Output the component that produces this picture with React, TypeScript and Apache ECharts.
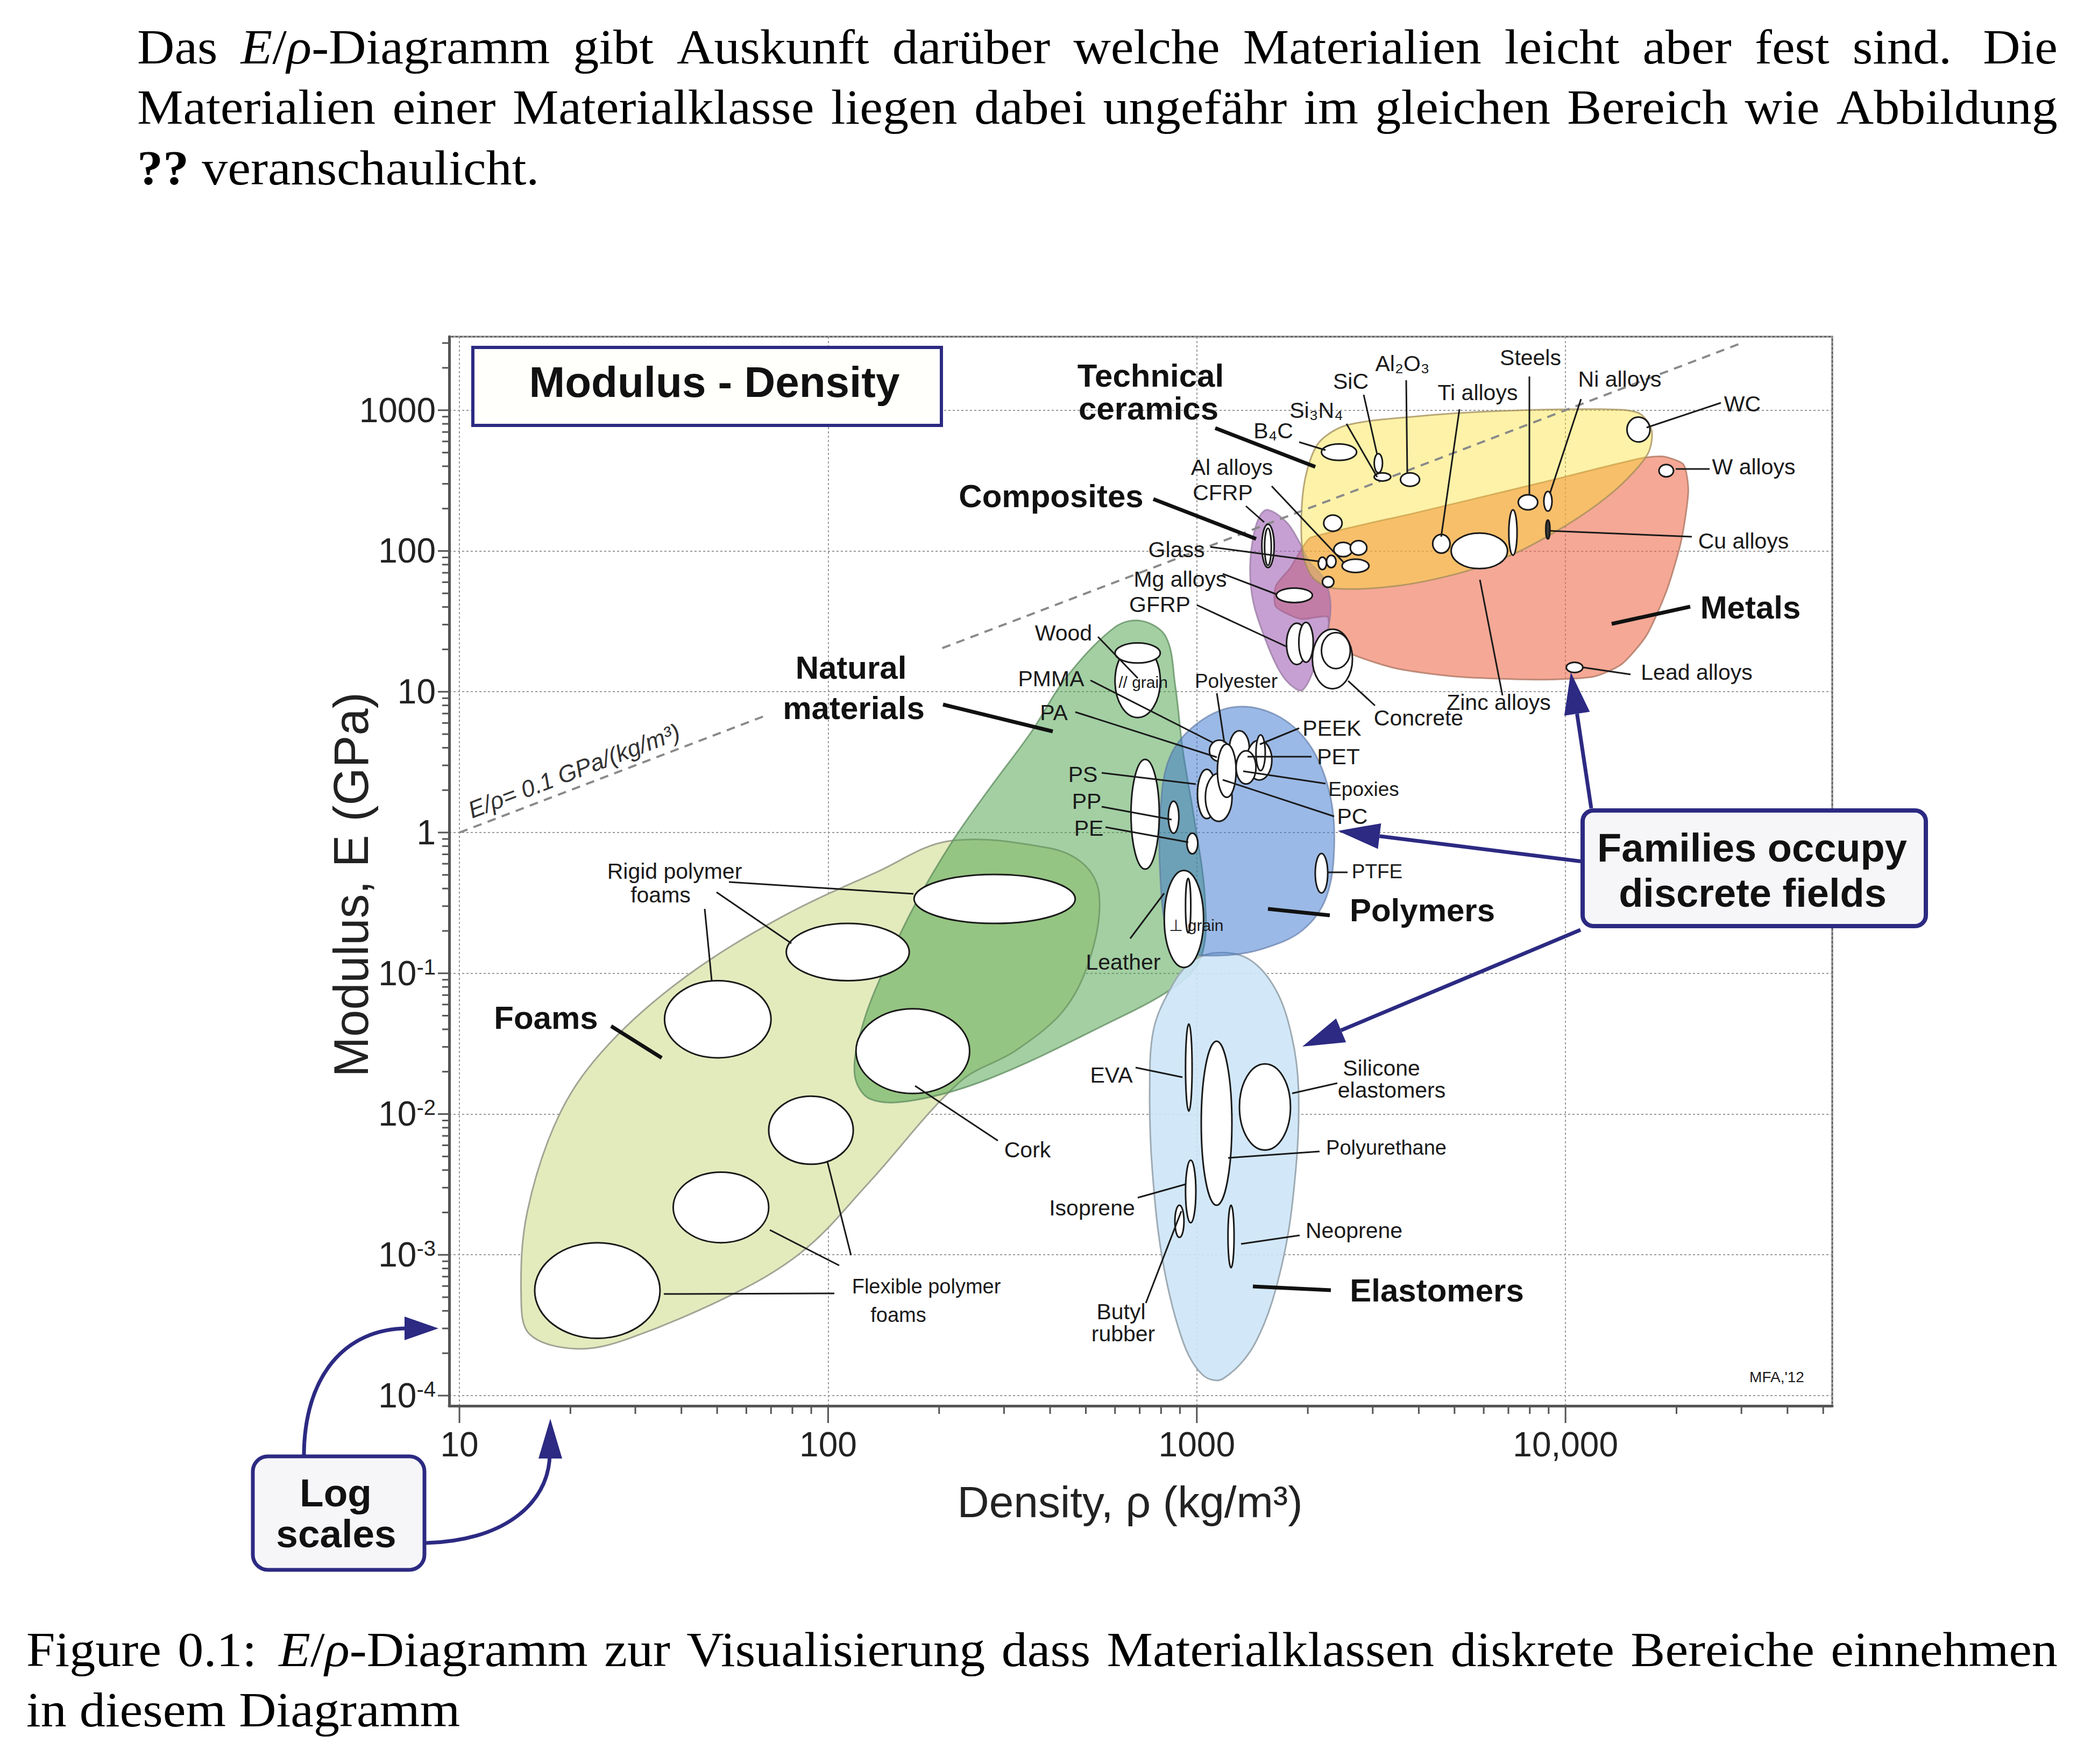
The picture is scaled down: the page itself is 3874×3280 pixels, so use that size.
import React, { useEffect, useRef } from "react";
import * as echarts from "echarts";

const SANS = "'Liberation Sans', Arial, Helvetica, sans-serif";
const SERIF = "'Liberation Serif', 'Times New Roman', serif";
const NAVY = "#2c2a82";

// ---------- axes ----------
const xExtent = [9.38, 52900];
const yExtent = [8.46e-5, 3330];
const xMajorTicks = [10, 100, 1000, 10000];
const yMajorTicks = [0.0001, 0.001, 0.01, 0.1, 1, 10, 100, 1000];
const minorMultipliers = [2, 3, 4, 5, 6, 7, 8, 9];
const xTickLabels: Record<string, string> = { "10": "10", "100": "100", "1000": "1000", "10000": "10,000" };

// ---------- guide line E/rho = 0.1 GPa/(kg/m3) ----------
const guideSegmentLow = [[10, 1], [67, 6.7]];
const guideSegmentHigh = [[204, 20.4], [30000, 3000]];

// ---------- family envelopes [density, modulus] ----------
const foamsOutline = [[213, 0.87], [393, 0.78], [492, 0.6], [543, 0.37], [521, 0.146], [442, 0.0574], [325, 0.0286], [228, 0.017], [129, 0.00326], [87.5, 0.00112], [58.7, 5.7e-4], [29, 2.56e-4], [20.8, 2.15e-4], [15.5, 2.73e-4], [14.7, 5.1e-4], [15.3, 2.06e-3], [18.8, 0.0103], [25.4, 0.0313], [41.1, 0.0946], [74.8, 0.251], [136, 0.526]];
const naturalOutline = [[707, 31.9], [599, 28.7], [441, 12.5], [357, 5.25], [275, 2.08], [218, 0.877], [172, 0.307], [142, 0.1076], [124, 0.0426], [118, 0.0191], [130, 0.0128], [172, 0.01256], [275, 0.01795], [558, 0.0426], [894, 0.084], [1035, 0.138], [1050, 0.37], [983, 1.27], [916, 3.86], [874, 11.0], [824, 24.6]];
const elastomersOutline = [[1128, 0.1398], [1388, 0.1254], [1639, 0.076], [1810, 0.0355], [1887, 0.0149], [1856, 0.00407], [1708, 8.9e-4], [1447, 2.42e-4], [1176, 1.315e-4], [1038, 1.4e-4], [917, 2.42e-4], [809, 8.9e-4], [757, 0.00407], [745, 0.0149], [763, 0.0396], [844, 0.076], [955, 0.1175]];
const polymersOutline = [[1267, 7.8], [1638, 6.85], [2016, 4.25], [2284, 1.98], [2360, 0.83], [2246, 0.348], [1934, 0.202], [1508, 0.149], [1176, 0.134], [917, 0.143], [830, 0.202], [796, 0.483], [796, 1.43], [844, 3.41], [996, 5.87]];
const compositesOutline = [[1558, 196], [1752, 160], [1890, 118], [2018, 84.4], [2205, 64.5], [2304, 43.2], [2262, 26.9], [2123, 16.8], [1938, 10.3], [1794, 11.2], [1660, 14.7], [1520, 25.1], [1423, 43.2], [1394, 74], [1423, 126.5], [1482, 177]];
const metalsOutline = [[1638, 40.3], [1638, 56.3], [1795, 76.3], [1940, 107], [2042, 125], [3933, 187], [8504, 303.5], [15960, 455], [18400, 469], [20900, 411], [21530, 265], [20600, 118], [18840, 53], [16580, 25.1], [14200, 15.7], [11900, 12.8], [8500, 12.2], [5080, 12.8], [3450, 14.7], [2545, 19.2], [2290, 25.1], [2262, 34.1], [1912, 32.9]];
const ceramicsOutline = [[1940, 96], [1925, 203], [1990, 372], [2150, 595], [2545, 782], [3935, 904], [6580, 987], [12500, 1017], [15770, 957], [17100, 728], [16900, 521], [15770, 397], [13520, 265], [11000, 177], [8500, 118], [6920, 90.6], [5080, 68.9], [3450, 56.3], [2355, 54.3], [2065, 64.5]];

// ---------- material bubbles: [name, rhoMin, rhoMax, Emin, Emax, dark] ----------
const foamBubbles = [
  ["Rigid polymer foam", 171, 468, 0.226, 0.504, 0], ["Rigid polymer foam", 77, 166, 0.0886, 0.226, 0], ["Rigid polymer foam", 36, 70, 0.0251, 0.0886, 0],
  ["Cork", 119, 242, 0.014, 0.056, 0],
  ["Flexible polymer foam", 69, 117, 0.0044, 0.0134, 0], ["Flexible polymer foam", 38, 69, 0.00122, 0.00387, 0], ["Flexible polymer foam", 16, 35, 2.55e-4, 1.22e-3, 0],
];
const naturalBubbles = [
  ["Wood", 600, 796, 6.56, 21.7, 0], ["Wood", 600, 796, 16, 22.2, 0],
  ["Wood perp grain", 816, 1043, 0.11, 0.538, 0], ["Leather", 932, 963, 0.194, 0.472, 0],
];
const polymerBubbles = [
  ["PS", 663, 791, 0.55, 3.31, 0], ["PP", 837, 894, 0.99, 1.67, 0], ["PE", 940, 1006, 0.706, 0.99, 0],
  ["PMMA", 1082, 1226, 3.2, 4.53, 0], ["PA", 1226, 1388, 3.0, 5.28, 0], ["PET", 1365, 1598, 2.36, 4.53, 0],
  ["PC", 1004, 1128, 1.256, 2.81, 0], ["PC", 1055, 1246, 1.2, 2.63, 0], ["Epoxies", 1137, 1278, 1.78, 4.25, 0],
  ["Polyester", 1278, 1447, 2.21, 3.81, 0], ["PEEK", 1447, 1533, 2.75, 4.94, 0], ["PTFE", 2095, 2265, 0.372, 0.709, 0],
];
const elastomerBubbles = [
  ["EVA", 932, 971, 0.0105, 0.0436, 0], ["Polyurethane", 1028, 1245, 0.00225, 0.0329, 0], ["Silicone elastomers", 1305, 1795, 0.00555, 0.0227, 0],
  ["Isoprene", 932, 994, 0.00169, 0.0047, 0], ["Butyl rubber", 872, 923, 0.00133, 0.00225, 0], ["Neoprene", 1215, 1262, 8.1e-4, 2.25e-3, 0],
];
const ceramicBubbles = [
  ["B4C", 2178, 2713, 440, 576, 0], ["SiC", 3028, 3189, 359, 492, 0], ["Si3N4", 3028, 3357, 314, 359, 0],
  ["Al2O3", 3568, 4019, 288, 359, 0], ["WC", 14680, 16950, 595, 893, 0], ["Glass ceramic", 2209, 2477, 138, 180, 0],
];
const metalBubbles = [
  ["W alloys", 17930, 19630, 336, 411, 0], ["Steels", 7445, 8405, 196, 251, 0], ["Ni alloys", 8733, 9193, 192, 265, 0],
  ["Cu alloys", 8842, 9073, 122, 166, 1], ["Ti alloys", 4363, 4861, 96.6, 131, 0], ["Zinc alloys", 4896, 6961, 74.9, 134, 0],
  ["Steels", 7019, 7389, 93.3, 196, 0], ["Al alloys", 2248, 2385, 76.2, 93.3, 0], ["Al alloys", 2353, 2643, 91.1, 115, 0],
  ["Al alloys", 2608, 2891, 93.5, 118.5, 0], ["Al alloys", 2477, 2930, 70.3, 87.4, 0], ["Glass", 2135, 2248, 73.8, 90.3, 0],
  ["Al alloys", 2191, 2353, 55.2, 65.9, 0], ["Mg alloys", 1643, 2058, 43, 54.5, 0], ["Lead alloys", 10050, 11140, 13.7, 16.2, 0],
];
const compositeBubbles = [
  ["CFRP", 1501, 1621, 76.2, 155, 0], ["CFRP", 1527, 1592, 79, 145, 0],
  ["GFRP", 1751, 1991, 15.6, 30.7, 0], ["GFRP", 1891, 2069, 16.2, 31.1, 0],
  ["Concrete", 2058, 2643, 10.5, 27.8, 0], ["Concrete", 2178, 2608, 14.6, 26.3, 0],
];

const envelopes = [
  { pts: foamsOutline, fill: "#e3ebbd", stroke: "#a3a394", smooth: 0.35 },
  { pts: naturalOutline, fill: "rgba(72,160,72,0.5)", stroke: "rgba(95,140,95,0.75)", smooth: 0.35 },
  { pts: elastomersOutline, fill: "rgba(205,230,248,0.9)", stroke: "#9eabb3", smooth: 0.35 },
  { pts: polymersOutline, fill: "rgba(55,115,205,0.5)", stroke: "rgba(90,115,160,0.6)", smooth: 0.35 },
  { pts: metalsOutline, fill: "rgba(238,105,72,0.58)", stroke: "rgba(170,115,95,0.75)", smooth: 0.22 },
  { pts: compositesOutline, fill: "rgba(160,96,180,0.6)", stroke: "rgba(150,120,160,0.7)", smooth: 0.35 },
  { pts: ceramicsOutline, fill: "rgba(250,224,47,0.42)", stroke: "rgba(160,140,90,0.75)", smooth: 0.3 },
];

const allBubbles = [...foamBubbles, ...naturalBubbles, ...polymerBubbles, ...elastomerBubbles, ...compositeBubbles, ...metalBubbles, ...ceramicBubbles];

// ---------- annotation texts (page pixels) ----------
const smallLabels: [string, number, number, number?][] = [
  ["Steels", 2845, 665], ["Al₂O₃", 2607, 676], ["SiC", 2511, 709], ["Ti alloys", 2747, 730], ["Ni alloys", 3011, 705],
  ["Si₃N₄", 2447, 763], ["B₄C", 2367, 801], ["WC", 3239, 751], ["W alloys", 3260, 868], ["Cu alloys", 3241, 1006],
  ["Lead alloys", 3154, 1250], ["Zinc alloys", 2786, 1306], ["Concrete", 2637, 1335], ["Al alloys", 2290, 869],
  ["CFRP", 2273, 916], ["Glass", 2187, 1022], ["Mg alloys", 2194, 1077], ["GFRP", 2156, 1124], ["Wood", 1977, 1177],
  ["PMMA", 1954, 1262], ["PA", 1959, 1325], ["Polyester", 2298, 1266, 37], ["PEEK", 2476, 1354], ["PET", 2488, 1407],
  ["Epoxies", 2535, 1467, 37], ["PC", 2514, 1518], ["PS", 2013, 1440], ["PP", 2020, 1490], ["PE", 2024, 1540],
  ["PTFE", 2560, 1620, 37], ["Leather", 2088, 1789], ["⊥ grain", 2224, 1720, 30], ["// grain", 2125, 1268, 30],
  ["Rigid polymer", 1254, 1620], ["foams", 1228, 1664], ["Cork", 1910, 2138], ["Flexible polymer", 1722, 2392, 38],
  ["foams", 1670, 2445, 38], ["EVA", 2066, 1999], ["Silicone", 2568, 1986], ["elastomers", 2587, 2027],
  ["Polyurethane", 2577, 2134, 38], ["Isoprene", 2030, 2246], ["Neoprene", 2517, 2288], ["Butyl", 2084, 2439],
  ["rubber", 2088, 2480], ["MFA,'12", 3303, 2560, 28],
];
const familyLabels: [string, number, number][] = [
  ["Technical", 2139, 698], ["ceramics", 2135, 759], ["Composites", 1954, 922], ["Natural", 1582, 1241],
  ["materials", 1587, 1316], ["Foams", 1015, 1892], ["Metals", 3254, 1129], ["Polymers", 2644, 1692], ["Elastomers", 2671, 2399],
];
const thickLeaders = [
  [2259, 796, 2445, 868], [2144, 928, 2335, 1002], [1753, 1310, 1957, 1360], [1136, 1908, 1230, 1967],
  [3142, 1128, 2996, 1160], [2357, 1690, 2472, 1702], [2329, 2392, 2474, 2399],
];
const thinLeaders = [
  [2843, 700, 2843, 921], [2614, 707, 2616, 879], [2535, 734, 2560, 845], [2713, 761, 2679, 998], [2939, 742, 2881, 918],
  [2503, 788, 2560, 887], [2415, 822, 2464, 837], [3199, 749, 3061, 795], [3115, 872, 3178, 872], [3145, 998, 2881, 987],
  [3031, 1254, 2943, 1241], [2793, 1293, 2751, 1078], [2556, 1312, 2506, 1266], [2364, 904, 2498, 1046], [2316, 941, 2350, 971],
  [2250, 1017, 2453, 1044], [2273, 1067, 2373, 1105], [2225, 1125, 2393, 1203], [2041, 1184, 2115, 1261], [2027, 1265, 2255, 1381],
  [1999, 1324, 2262, 1408], [2262, 1289, 2276, 1381], [2415, 1354, 2342, 1384], [2438, 1407, 2319, 1407], [2464, 1457, 2311, 1434],
  [2480, 1518, 2273, 1450], [2048, 1437, 2223, 1458], [2048, 1500, 2178, 1524], [2055, 1538, 2209, 1566], [2468, 1622, 2505, 1622],
  [2101, 1745, 2164, 1661], [1355, 1640, 1698, 1662], [1332, 1659, 1471, 1754], [1310, 1690, 1323, 1823], [1855, 2121, 1701, 2019],
  [1551, 2405, 1234, 2406], [1560, 2353, 1431, 2287], [1582, 2334, 1538, 2160], [2111, 1985, 2198, 2003], [2486, 2014, 2402, 2033],
  [2453, 2141, 2283, 2153], [2115, 2227, 2204, 2202], [2416, 2297, 2307, 2313], [2130, 2423, 2196, 2252],
];

// ---------- document text ----------
const paragraphLines = [
  { text: "Das *E*/*ρ*-Diagramm gibt Auskunft darüber welche Materialien leicht aber fest sind. Die", x0: 255, x1: 3825, y: 87, justify: true },
  { text: "Materialien einer Materialklasse liegen dabei ungefähr im gleichen Bereich wie Abbildung", x0: 255, x1: 3825, y: 199, justify: true },
  { text: "#??# veranschaulicht.", x0: 255, x1: 3825, y: 312, justify: false },
  { text: "Figure 0.1: *E*/*ρ*-Diagramm zur Visualisierung dass Materialklassen diskrete Bereiche einnehmen", x0: 49, x1: 3825, y: 3067, justify: true },
  { text: "in diesem Diagramm", x0: 49, x1: 3825, y: 3179, justify: false },
];
const DOC_SIZE = 92;
const DOC_STRETCH = 1.045;

function serifFont(i: boolean, b: boolean) {
  return `${i ? "italic " : ""}${b ? "bold " : ""}${DOC_SIZE}px ${SERIF}`;
}

function layoutDocText() {
  const ctx = document.createElement("canvas").getContext("2d") as CanvasRenderingContext2D;
  const out: any[] = [];
  paragraphLines.forEach((line) => {
    const words = line.text.split(" ").map((w) => {
      const segs: { t: string; i: boolean; b: boolean }[] = [];
      let i = false, b = false, cur = "";
      for (const ch of w) {
        if (ch === "*" || ch === "#") {
          if (cur) segs.push({ t: cur, i, b });
          cur = "";
          if (ch === "*") i = !i; else b = !b;
        } else cur += ch;
      }
      if (cur) segs.push({ t: cur, i, b });
      return segs.map((s) => {
        ctx.font = serifFont(s.i, s.b);
        return { ...s, w: ctx.measureText(s.t).width * DOC_STRETCH };
      });
    });
    const widths = words.map((w) => w.reduce((a, s) => a + s.w, 0));
    const weights = words.slice(0, -1).map((w) => (/[.:]$/.test(w[w.length - 1].t) ? 1.35 : 1));
    ctx.font = serifFont(false, false);
    let unit = ctx.measureText(" ").width * DOC_STRETCH;
    if (line.justify) {
      const total = widths.reduce((a, b) => a + b, 0);
      unit = (line.x1 - line.x0 - total) / weights.reduce((a, b) => a + b, 0);
    }
    let x = line.x0;
    words.forEach((w, wi) => {
      w.forEach((s) => {
        out.push({ type: "text", x, y: line.y, scaleX: DOC_STRETCH, z: 200, style: { text: s.t, font: serifFont(s.i, s.b), fill: "#000", align: "left", verticalAlign: "middle" } });
        x += s.w;
      });
      if (wi < weights.length) x += unit * weights[wi];
    });
  });
  return out;
}

function arrowHead(fx: number, fy: number, tx: number, ty: number, len: number, half: number) {
  const dx = tx - fx, dy = ty - fy, L = Math.hypot(dx, dy);
  const ux = dx / L, uy = dy / L;
  const bx = tx - ux * len, by = ty - uy * len;
  return { base: [bx, by], pts: [[tx, ty], [bx - uy * half, by + ux * half], [bx + uy * half, by - ux * half]] };
}

function buildGraphics() {
  const g: any[] = [];
  // boxes
  g.push({ type: "rect", z: 150, shape: { x: 879, y: 646, width: 871, height: 145 }, style: { fill: "#fffffc", stroke: NAVY, lineWidth: 6 } });
  g.push({ type: "text", z: 151, x: 1328, y: 710, style: { text: "Modulus - Density", font: `bold 80px ${SANS}`, fill: "#111", align: "center", verticalAlign: "middle" } });
  g.push({ type: "rect", z: 150, shape: { x: 2942, y: 1507, width: 638, height: 215, r: 20 }, style: { fill: "#f6f6f8", stroke: NAVY, lineWidth: 8 } });
  g.push({ type: "text", z: 151, x: 3257, y: 1576, style: { text: "Families occupy", font: `bold 74px ${SANS}`, fill: "#111", align: "center", verticalAlign: "middle" } });
  g.push({ type: "text", z: 151, x: 3258, y: 1660, style: { text: "discrete fields", font: `bold 74px ${SANS}`, fill: "#111", align: "center", verticalAlign: "middle" } });
  g.push({ type: "rect", z: 150, shape: { x: 470, y: 2708, width: 319, height: 211, r: 28 }, style: { fill: "#f6f6f8", stroke: NAVY, lineWidth: 7 } });
  g.push({ type: "text", z: 151, x: 624, y: 2775, style: { text: "Log", font: `bold 73px ${SANS}`, fill: "#111", align: "center", verticalAlign: "middle" } });
  g.push({ type: "text", z: 151, x: 625, y: 2851, style: { text: "scales", font: `bold 73px ${SANS}`, fill: "#111", align: "center", verticalAlign: "middle" } });

  // navy arrows from the callout box
  const straight = [[2942, 1602, 2487, 1545], [2958, 1503, 2920, 1250], [2938, 1729, 2421, 1946]];
  straight.forEach(([fx, fy, tx, ty]) => {
    const h = arrowHead(fx, fy, tx, ty, 78, 24);
    g.push({ type: "line", z: 140, shape: { x1: fx, y1: fy, x2: h.base[0], y2: h.base[1] }, style: { stroke: NAVY, lineWidth: 7 } });
    g.push({ type: "polygon", z: 141, shape: { points: h.pts }, style: { fill: NAVY } });
  });
  // curved log-scale arrows
  g.push({ type: "bezierCurve", z: 140, shape: { x1: 565, y1: 2708, cpx1: 565, cpy1: 2560, cpx2: 640, cpy2: 2470, x2: 758, y2: 2470 }, style: { stroke: NAVY, lineWidth: 7, fill: "none" } });
  g.push({ type: "polygon", z: 141, shape: { points: [[815, 2470], [752, 2448], [752, 2492]] }, style: { fill: NAVY } });
  g.push({ type: "bezierCurve", z: 140, shape: { x1: 792, y1: 2869, cpx1: 930, cpy1: 2866, cpx2: 1020, cpy2: 2800, x2: 1022, y2: 2705 }, style: { stroke: NAVY, lineWidth: 7, fill: "none" } });
  g.push({ type: "polygon", z: 141, shape: { points: [[1023, 2638], [1001, 2712], [1045, 2712]] }, style: { fill: NAVY } });

  // leaders
  thickLeaders.forEach(([x1, y1, x2, y2]) => g.push({ type: "line", z: 120, shape: { x1, y1, x2, y2 }, style: { stroke: "#111", lineWidth: 7 } }));
  thinLeaders.forEach(([x1, y1, x2, y2]) => g.push({ type: "line", z: 120, shape: { x1, y1, x2, y2 }, style: { stroke: "#1a1a1a", lineWidth: 3 } }));

  // labels
  smallLabels.forEach(([t, x, y, s]) => g.push({ type: "text", z: 130, x, y, style: { text: t, font: `${s || 41}px ${SANS}`, fill: "#1a1a1a", align: "center", verticalAlign: "middle" } }));
  familyLabels.forEach(([t, x, y]) => g.push({ type: "text", z: 130, x, y, style: { text: t, font: `bold 60px ${SANS}`, fill: "#111", align: "center", verticalAlign: "middle" } }));

  // guide-line label
  g.push({ type: "text", z: 130, x: 1067, y: 1433, rotation: 0.365, style: { text: "E/ρ= 0.1 GPa/(kg/m³)", font: `italic 44px ${SANS}`, fill: "#333", align: "center", verticalAlign: "middle" } });

  return g.concat(layoutDocText());
}

function buildOption() {
  const xMinor = xMajorTicks.flatMap((d) => minorMultipliers.map((m) => m * d)).filter((v) => v < xExtent[1]);
  const yMinor = yMajorTicks.flatMap((d) => minorMultipliers.map((m) => m * d)).filter((v) => v < yExtent[1]);
  const tickData: number[][] = [
    ...xMajorTicks.map((v) => [v, yExtent[0], 0]),
    ...xMinor.map((v) => [v, yExtent[0], 1]),
    ...yMajorTicks.map((v) => [xExtent[0], v, 2]),
    ...yMinor.map((v) => [xExtent[0], v, 3]),
  ];
  const isPow10 = (v: number) => Math.abs(Math.log10(v) - Math.round(Math.log10(v))) < 1e-6;

  return {
    animation: false,
    backgroundColor: "#ffffff",
    grid: { left: 835, top: 626, width: 2571, height: 1988, show: true, borderColor: "#555", borderWidth: 3, backgroundColor: "transparent" },
    xAxis: {
      type: "log", logBase: 10, min: xExtent[0], max: xExtent[1],
      name: "Density, ρ (kg/m³)", nameLocation: "middle", nameGap: 137, nameMoveOverlap: false,
      nameTextStyle: { fontFamily: SANS, fontSize: 82, color: "#222", padding: [0, 40, 0, 0] },
      axisLine: { show: true, onZero: false, lineStyle: { color: "#555", width: 5 } },
      axisTick: { show: false },
      axisLabel: {
        margin: 40, fontFamily: SANS, fontSize: 64, color: "#222", showMinLabel: false, showMaxLabel: false,
        formatter: (v: number) => (isPow10(v) ? xTickLabels[String(Math.round(v))] || "" : ""),
      },
      splitLine: { show: true, lineStyle: { color: "#9a9a9a", width: 2, type: [4, 4] } },
    },
    yAxis: {
      type: "log", logBase: 10, min: yExtent[0], max: yExtent[1],
      name: "Modulus, E (GPa)", nameLocation: "middle", nameGap: 137, nameMoveOverlap: false,
      nameTextStyle: { fontFamily: SANS, fontSize: 90, color: "#222", padding: [0, 50, 0, 0] },
      axisLine: { show: true, onZero: false, lineStyle: { color: "#555", width: 5 } },
      axisTick: { show: false },
      axisLabel: {
        margin: 25, fontFamily: SANS, fontSize: 64, color: "#222", showMinLabel: false, showMaxLabel: false,
        formatter: (v: number) => {
          if (!isPow10(v)) return "";
          const n = Math.round(Math.log10(v));
          return n >= 0 ? String(Math.round(v)) : `10{sup|-${-n}}`;
        },
        rich: { sup: { fontSize: 40, fontFamily: SANS, color: "#222", verticalAlign: "top", padding: [0, 0, 22, 0] } },
      },
      splitLine: { show: true, lineStyle: { color: "#9a9a9a", width: 2, type: [4, 4] } },
    },
    graphic: buildGraphics(),
    series: [
      {
        type: "custom", name: "families", z: 1, silent: true,
        dimensions: ["x", "y", "idx"], encode: { x: 0, y: 1 },
        data: envelopes.map((e, i) => [e.pts[0][0], e.pts[0][1], i]),
        renderItem: (params: any, api: any) => {
          const env = envelopes[api.value(2)];
          return { type: "polygon", shape: { points: env.pts.map((p) => api.coord(p)), smooth: env.smooth }, style: { fill: env.fill, stroke: env.stroke, lineWidth: 3 } };
        },
      },
      { type: "line", name: "E/rho low", z: 2, silent: true, symbol: "none", data: guideSegmentLow, lineStyle: { color: "#8a8a8a", width: 4, type: [16, 12] } },
      { type: "line", name: "E/rho high", z: 2, silent: true, symbol: "none", data: guideSegmentHigh, lineStyle: { color: "#8a8a8a", width: 4, type: [16, 12] } },
      {
        type: "custom", name: "materials", z: 3, silent: true,
        dimensions: ["x1", "x2", "y1", "y2", "dark"], encode: { x: [0, 1], y: [2, 3] },
        data: allBubbles.map((b) => [b[1], b[2], b[3], b[4], b[5]]),
        renderItem: (params: any, api: any) => {
          const p1 = api.coord([api.value(0), api.value(3)]);
          const p2 = api.coord([api.value(1), api.value(2)]);
          return {
            type: "ellipse",
            shape: { cx: (p1[0] + p2[0]) / 2, cy: (p1[1] + p2[1]) / 2, rx: Math.abs(p2[0] - p1[0]) / 2, ry: Math.abs(p2[1] - p1[1]) / 2 },
            style: { fill: api.value(4) ? "#3a3a3a" : "#ffffff", stroke: "#1a1a1a", lineWidth: 3 },
          };
        },
      },
      {
        type: "custom", name: "ticks", z: 4, silent: true, clip: false,
        dimensions: ["x", "y", "kind"], encode: { x: 0, y: 1 },
        data: tickData,
        renderItem: (params: any, api: any) => {
          const p = api.coord([api.value(0), api.value(1)]);
          const k = api.value(2);
          const shape = k === 0 ? { x1: p[0], y1: p[1] + 2, x2: p[0], y2: p[1] + 32 }
            : k === 1 ? { x1: p[0], y1: p[1] + 2, x2: p[0], y2: p[1] + 15 }
            : k === 2 ? { x1: p[0] - 2, y1: p[1], x2: p[0] - 21, y2: p[1] }
            : { x1: p[0] - 2, y1: p[1], x2: p[0] - 13, y2: p[1] };
          return { type: "line", shape, style: { stroke: "#555", lineWidth: 3 } };
        },
      },
    ],
  };
}

export default function App() {
  const ref = useRef<HTMLDivElement>(null);
  useEffect(() => {
    if (!ref.current) return;
    const chart = echarts.init(ref.current, null, { renderer: "svg" });
    chart.setOption(buildOption() as any);
    return () => chart.dispose();
  }, []);
  return <div ref={ref} style={{ position: "fixed", left: 0, top: 0, width: 3874, height: 3280, background: "#fff" }} />;
}
